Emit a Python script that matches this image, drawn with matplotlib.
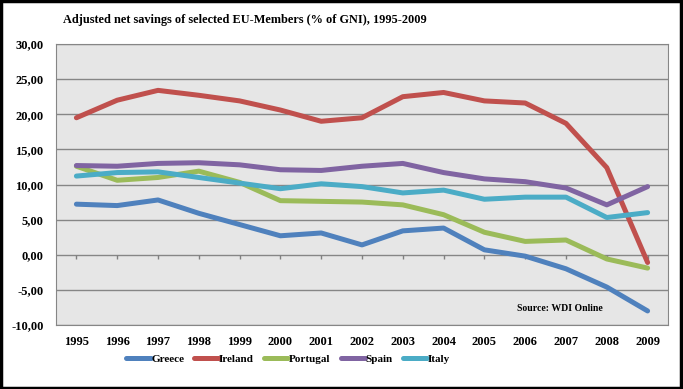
import matplotlib.pyplot as plt
from matplotlib.patches import Rectangle

# === Data ===
years = [str(y) for y in range(1995, 2010)]
greece = [7.2, 7.0, 7.8, 5.9, 4.3, 2.7, 3.1, 1.4, 3.4, 3.8, 0.7, -0.2, -2.0, -4.6, -8.0]
ireland = [19.5, 22.0, 23.4, 22.7, 21.9, 20.6, 19.0, 19.5, 22.5, 23.1, 21.9, 21.6, 18.7, 12.4, -1.1]
portugal = [12.6, 10.6, 11.0, 11.9, 10.3, 7.7, 7.6, 7.5, 7.1, 5.7, 3.2, 1.9, 2.1, -0.6, -1.9]
spain = [12.7, 12.6, 13.0, 13.1, 12.8, 12.1, 12.0, 12.6, 13.0, 11.7, 10.8, 10.4, 9.5, 7.1, 9.7]
italy = [11.2, 11.7, 11.8, 11.0, 10.2, 9.4, 10.1, 9.7, 8.8, 9.2, 7.9, 8.2, 8.2, 5.3, 6.0]
yticks = [-10, -5, 0, 5, 10, 15, 20, 25, 30]

series = [
    ('Greece', greece, '#4F81BD'),
    ('Ireland', ireland, '#C0504D'),
    ('Portugal', portugal, '#9BBB59'),
    ('Spain', spain, '#8064A2'),
    ('Italy', italy, '#4BACC6'),
]

serif = 'Liberation Serif'

fig = plt.figure(figsize=(6.83, 3.89), dpi=100)
ax = fig.add_axes([56 / 683, 1 - 325 / 389, 612 / 683, 281 / 389])
ax.set_facecolor('#E6E6E6')

x = list(range(len(years)))
for name, vals, col in series:
    ax.plot(x, vals, color=col, lw=3.6, label=name, solid_capstyle='round', solid_joinstyle='round')

# zero axis tick marks
ax.plot(x, [0] * len(x), linestyle='none', marker=3, markersize=3, color='#808080', zorder=1)

ax.set_xlim(-0.5, len(years) - 0.5)
ax.set_ylim(-10, 30)
ax.set_yticks(yticks)
ax.set_yticklabels([f"{v:.2f}".replace('.', ',') for v in yticks])
ax.set_xticks(x)
ax.set_xticklabels(years)
ax.grid(axis='y', color='#868686', lw=1)
ax.set_axisbelow(True)
ax.tick_params(length=0, pad=8)
for lab in ax.get_xticklabels() + ax.get_yticklabels():
    lab.set_fontfamily(serif)
    lab.set_fontweight('bold')
    lab.set_fontsize(9)
ax.tick_params(axis='y', pad=9)
for s in ax.spines.values():
    s.set_color('#868686')

fig.text(63 / 683, 1 - 20 / 389, 'Adjusted net savings of selected EU-Members (% of GNI), 1995-2009',
         fontfamily=serif, fontweight='bold', fontsize=8.8, va='center', ha='left')
ax.text(0.824, 0.06, 'Source: WDI Online', transform=ax.transAxes, fontfamily=serif,
        fontweight='bold', fontsize=7, ha='center', va='center')

leg = fig.legend(loc='center', bbox_to_anchor=(288 / 683, 1 - 359 / 389), ncol=5, frameon=False,
                 prop={'family': serif, 'weight': 'bold', 'size': 8},
                 handlelength=2.2, handletextpad=0.05, columnspacing=0.9)

fig.patches.append(Rectangle((0.002, 0.003), 0.995, 0.994, transform=fig.transFigure,
                             fill=False, edgecolor='black', lw=2.5))

plt.savefig('out.png', dpi=100)
